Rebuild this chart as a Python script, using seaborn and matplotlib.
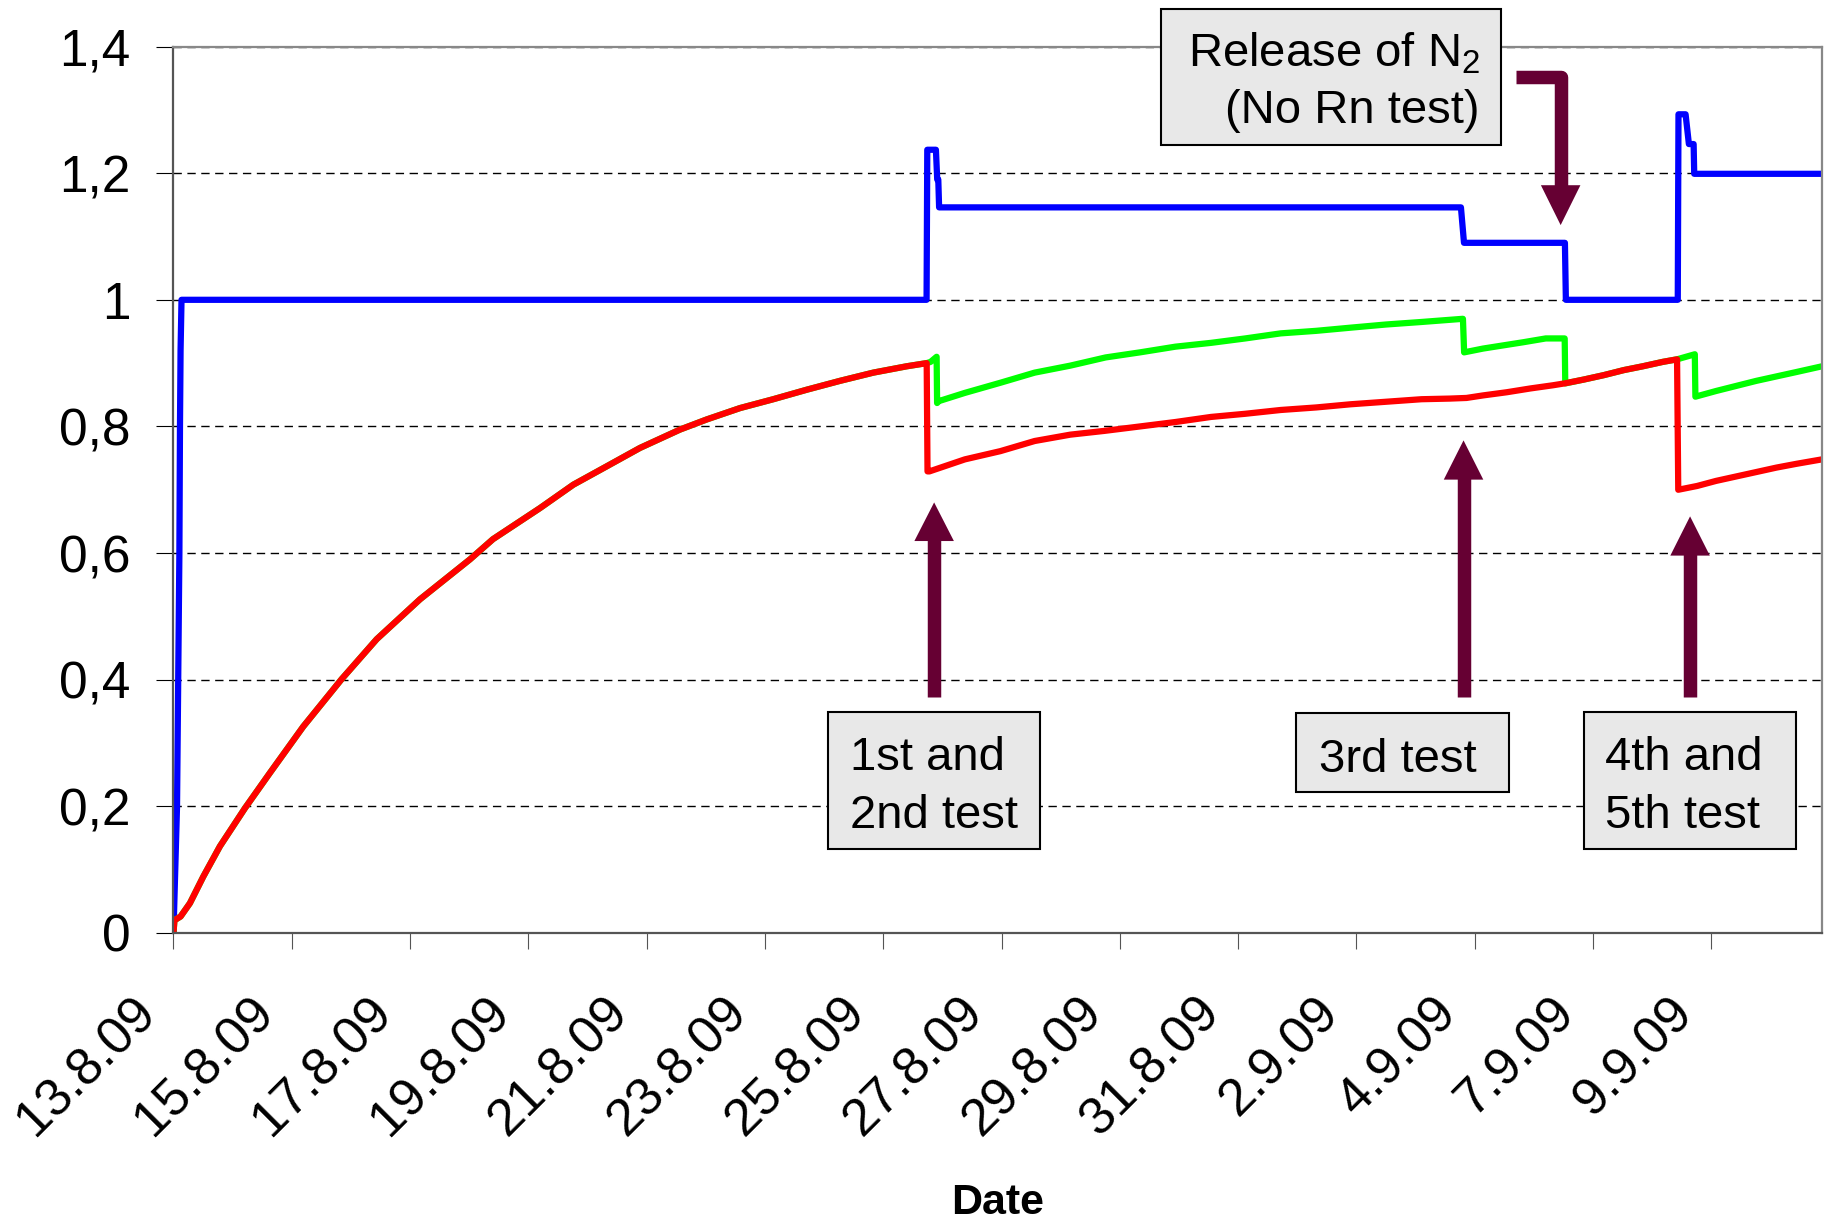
import matplotlib
matplotlib.use("Agg")
import matplotlib.pyplot as plt
import seaborn as sns
from matplotlib.patches import Rectangle, Polygon
from matplotlib.transforms import ScaledTranslation

# x is measured in label steps: 0 = 13.8.09, 1 = 15.8.09, ... 13 = 9.9.09
tick_labels = ["13.8.09", "15.8.09", "17.8.09", "19.8.09", "21.8.09", "23.8.09",
               "25.8.09", "27.8.09", "29.8.09", "31.8.09", "2.9.09", "4.9.09",
               "7.9.09", "9.9.09"]
y_ticks = [0, 0.2, 0.4, 0.6, 0.8, 1.0, 1.2, 1.4]
y_tick_labels = ["0", "0,2", "0,4", "0,6", "0,8", "1", "1,2", "1,4"]

# blue curve
blue_t = [0.0, 0.03, 0.04, 0.05, 0.055, 0.06, 0.068, 6.366, 6.372, 6.445, 6.456,
          6.465, 6.472, 10.883, 10.909, 11.762, 11.770, 12.716, 12.722, 12.782,
          12.81, 12.85, 12.855, 13.935]
blue_v = [0.0, 0.2, 0.4, 0.6, 0.8, 0.92, 1.0, 1.0, 1.237, 1.237, 1.19,
          1.19, 1.146, 1.146, 1.090, 1.090, 1.0, 1.0, 1.293, 1.293,
          1.246, 1.246, 1.199, 1.199]

# red and green share the first rise up to the 1st test
rise_t = [0.0, 0.008, 0.06, 0.139, 0.252, 0.393, 0.604, 0.816, 1.097, 1.422, 1.718,
          2.084, 2.506, 2.701, 3.098, 3.380, 3.662, 3.943, 4.281, 4.507, 4.789,
          5.070, 5.353, 5.634, 5.916, 6.198, 6.367]
rise_v = [0.0, 0.02, 0.026, 0.047, 0.089, 0.137, 0.197, 0.253, 0.326, 0.401, 0.464,
          0.527, 0.590, 0.622, 0.671, 0.708, 0.737, 0.766, 0.795, 0.811, 0.829,
          0.843, 0.858, 0.872, 0.885, 0.895, 0.900]

red_after_t = [6.374, 6.39, 6.69, 6.99, 7.28, 7.58, 7.87, 8.17, 8.47, 8.77, 9.06,
               9.36, 9.66, 9.95, 10.25, 10.55, 10.79, 10.93, 11.07, 11.27, 11.47,
               11.66, 11.76, 11.92, 12.09, 12.26, 12.42, 12.59, 12.71, 12.72, 12.88,
               13.04, 13.21, 13.38, 13.55, 13.72, 13.935]
red_after_v = [0.729, 0.729, 0.748, 0.761, 0.777, 0.787, 0.793, 0.800, 0.807, 0.815,
               0.820, 0.826, 0.830, 0.835, 0.839, 0.843, 0.844, 0.845, 0.849, 0.854,
               0.860, 0.865, 0.868, 0.874, 0.881, 0.889, 0.895, 0.902, 0.906, 0.700,
               0.706, 0.714, 0.721, 0.728, 0.735, 0.741, 0.748]

green_after_t = [6.40, 6.451, 6.455, 6.47, 6.69, 6.99, 7.28, 7.58, 7.88, 8.17, 8.47,
                 8.77, 9.06, 9.36, 9.66, 9.95, 10.25, 10.55, 10.90, 10.91, 11.07,
                 11.24, 11.41, 11.60, 11.76, 11.765, 11.92, 12.09, 12.26, 12.42,
                 12.59, 12.71, 12.86, 12.865, 13.04, 13.21, 13.38, 13.55, 13.72, 13.935]
green_after_v = [0.902, 0.910, 0.837, 0.840, 0.853, 0.869, 0.885, 0.896, 0.909, 0.917,
                 0.926, 0.932, 0.939, 0.947, 0.951, 0.956, 0.961, 0.965, 0.970, 0.917,
                 0.923, 0.928, 0.933, 0.939, 0.939, 0.868, 0.874, 0.881, 0.889, 0.895,
                 0.902, 0.906, 0.914, 0.847, 0.856, 0.864, 0.872, 0.879, 0.886, 0.895]

red_t = rise_t + red_after_t
red_v = rise_v + red_after_v
green_t = rise_t + green_after_t
green_v = rise_v + green_after_v

sns.set_theme(style="white")
plt.rcParams['font.family'] = ['Liberation Sans', 'DejaVu Sans']
plt.rcParams['text.color'] = 'black'
plt.rcParams['axes.labelcolor'] = 'black'
plt.rcParams['xtick.labelcolor'] = 'black'
plt.rcParams['ytick.labelcolor'] = 'black'

fig = plt.figure(figsize=(18.26, 12.25), dpi=100)
ax = fig.add_axes([0.095, 0.2384, 0.9028, 0.7236])

sns.lineplot(x=blue_t, y=blue_v, color="#0000ff", lw=4.5, sort=False, estimator=None, ax=ax)
sns.lineplot(x=green_t, y=green_v, color="#00ff00", lw=4.5, sort=False, estimator=None, ax=ax)
sns.lineplot(x=red_t, y=red_v, color="#ff0000", lw=4.5, sort=False, estimator=None, ax=ax)

ax.set_xlim(0, 13.935)
ax.set_ylim(0, 1.4)
ax.set_yticks(y_ticks)
ax.set_yticklabels(y_tick_labels)
ax.set_xticks(range(len(tick_labels)))
ax.set_xticklabels(tick_labels)

ax.yaxis.grid(True, color="black", linestyle=(0, (6, 4)), linewidth=1.0)
ax.xaxis.grid(False)
ax.set_axisbelow(True)

for side in ["left", "bottom"]:
    ax.spines[side].set_color("#555555")
    ax.spines[side].set_linewidth(1.6)
for side in ["top", "right"]:
    ax.spines[side].set_color("#888888")
    ax.spines[side].set_linewidth(1.6)

ax.tick_params(axis="y", direction="out", length=12, width=0.8, color="black",
               pad=19, labelsize=37, labelcolor="black", left=True)
ax.tick_params(axis="x", direction="out", length=11.5, width=0.8, color="#555555",
               pad=28, labelsize=37.5, labelcolor="black", bottom=True)
plt.setp(ax.get_xticklabels(), rotation=45, ha="right", va="top", rotation_mode="anchor")
shift = ScaledTranslation(-43 / 100, 0, fig.dpi_scale_trans)
for lbl in ax.get_xticklabels():
    lbl.set_transform(lbl.get_transform() + shift)

ax.set_xlabel("Date", fontsize=31, fontweight="bold")
ax.xaxis.set_label_coords(0.5, -0.305)
ax.xaxis.label.set_va("center")
ax.set_ylabel("")

# annotation boxes
box_color = "#e8e8e8"
boxes = [(5.529, 0.133, 1.796, 0.216), (9.49, 0.223, 1.80, 0.125),
         (11.92, 0.133, 1.795, 0.216), (8.347, 1.245, 2.873, 0.215)]
for bx, by, bw, bh in boxes:
    ax.add_patch(Rectangle((bx, by), bw, bh, facecolor=box_color, edgecolor="black",
                           lw=1.5, zorder=5, clip_on=False))

tsize = 34
ax.text(5.72, 0.2577, "1st and", fontsize=tsize, va="baseline", ha="left", zorder=6)
ax.text(5.72, 0.166, "2nd test", fontsize=tsize, va="baseline", ha="left", zorder=6)
ax.text(10.35, 0.255, "3rd test", fontsize=tsize, va="baseline", ha="center", zorder=6)
ax.text(12.10, 0.2577, "4th and", fontsize=tsize, va="baseline", ha="left", zorder=6)
ax.text(12.10, 0.166, "5th test", fontsize=tsize, va="baseline", ha="left", zorder=6)
ax.text(11.044, 1.369, r"Release of N$_\mathregular{2}$", fontsize=tsize, va="baseline",
        ha="right", zorder=6, clip_on=False)
ax.text(11.044, 1.280, "(No Rn test)", fontsize=tsize, va="baseline", ha="right",
        zorder=6, clip_on=False)

# arrows
arrow_color = "#660033"
shaft_lw = 9.7
head_hw = 0.167
for ax_x, base, head_base, tip in [(6.43, 0.373, 0.619, 0.680),
                                   (10.905, 0.373, 0.716, 0.778),
                                   (12.82, 0.373, 0.596, 0.658)]:
    ax.plot([ax_x, ax_x], [base, head_base + 0.002], color=arrow_color, lw=shaft_lw,
            solid_capstyle="butt", zorder=4)
    ax.add_patch(Polygon([(ax_x - head_hw, head_base), (ax_x + head_hw, head_base),
                          (ax_x, tip)], closed=True, color=arrow_color, lw=0, zorder=4))

ax.plot([11.348, 11.726, 11.726], [1.3515, 1.3515, 1.179], color=arrow_color, lw=shaft_lw,
        solid_capstyle="butt", solid_joinstyle="round", zorder=4, clip_on=False)
ax.add_patch(Polygon([(11.726 - head_hw, 1.181), (11.726 + head_hw, 1.181), (11.726, 1.118)],
                     closed=True, color=arrow_color, lw=0, zorder=4, clip_on=False))

fig.savefig("out.png", dpi=100)
